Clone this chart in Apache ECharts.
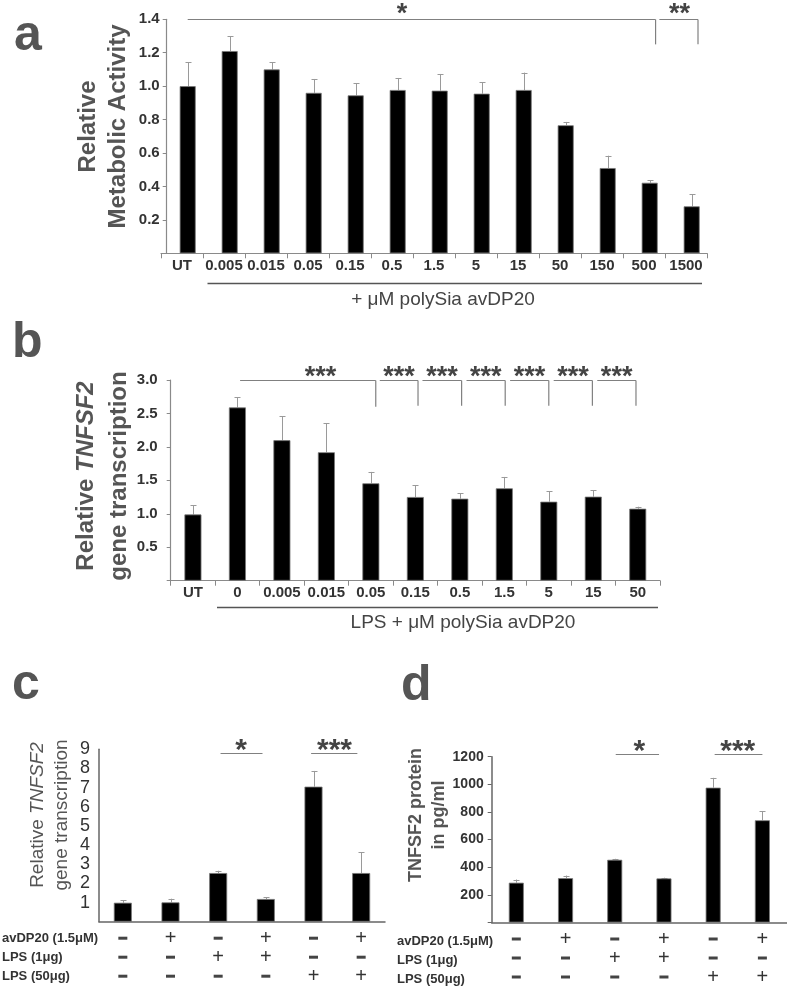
<!DOCTYPE html>
<html><head><meta charset="utf-8">
<script src="https://cdn.jsdelivr.net/npm/echarts@6/dist/echarts.min.js"></script>
<style>html,body{margin:0;padding:0;background:#fff}#c{width:787px;height:987px}</style>
</head><body><div id="c"></div>
<script>
// ---------- DATA ----------
const catA = ['UT','0.005','0.015','0.05','0.15','0.5','1.5','5','15','50','150','500','1500'];
const meanA = [1.00,1.21,1.10,0.96,0.945,0.977,0.973,0.955,0.977,0.766,0.51,0.422,0.281];
const sdA   = [0.143,0.09,0.043,0.083,0.072,0.072,0.10,0.068,0.104,0.02,0.074,0.015,0.072];
const ticksA = [0,0.2,0.4,0.6,0.8,1.0,1.2,1.4];

const catB = ['UT','0','0.005','0.015','0.05','0.15','0.5','1.5','5','15','50'];
const meanB = [0.99,2.59,2.10,1.92,1.456,1.251,1.226,1.381,1.181,1.256,1.076];
const sdB   = [0.14,0.15,0.36,0.43,0.17,0.175,0.08,0.17,0.155,0.095,0.03];

const catC = ['g1','g2','g3','g4','g5','g6'];
const meanC = [0.99,1.01,2.54,1.185,7.05,2.54];
const sdC   = [0.13,0.19,0.12,0.085,0.82,1.08];

const meanD = [288,321,454,319,976,740];
const sdD   = [23,19,7,5,71,67];

const rowAvdp  = ['-','+','-','+','-','+'];
const rowLps1  = ['-','-','+','+','-','-'];
const rowLps50 = ['-','-','-','-','+','+'];
const rowNames = ['avDP20 (1.5μM)','LPS (1μg)','LPS (50μg)'];

// significance brackets: [fromIdx, toIdx, lineValue, dropValue(-1 none), labelIdx]
const sigA = [[0,11.14,1.4,1.25,5.1],[11.23,12.15,1.4,1.25,11.71]];
const sigALabels = ['*','**'];
const sigB = [[1.06,4.11,3.0,2.60,2.87],[4.20,5.06,3.0,2.615,4.63],[5.16,6.04,3.0,2.615,5.60],[6.15,7.02,3.0,2.615,6.585],[7.13,8.0,3.0,2.615,7.565],[8.11,8.98,3.0,2.615,8.545],[9.09,9.96,3.0,2.615,9.525]];
const sigBLabels = ['***','***','***','***','***','***','***'];
const sigC = [[2.05,2.93,8.82,-1,2.48],[3.95,4.92,8.82,-1,4.44]];
const sigD = [[2.02,2.9,1221,-1,2.5],[4.03,5.0,1221,-1,4.5]];
const sigCDLabels = ['*','***'];

// ---------- RENDER ----------
const FF = "'Liberation Sans', Arial, Helvetica, sans-serif";
const chart = echarts.init(document.getElementById('c'), null, {renderer:'canvas', width:787, height:987});

function errRender(params, api){
  const x = api.value(0), m = api.value(1), s = api.value(2);
  const p0 = api.coord([x, m]), p1 = api.coord([x, m + s]);
  const cx = Math.round(p0[0]) + 0.5;
  return {type:'group', children:[
    {type:'line', shape:{x1:cx,y1:p0[1],x2:cx,y2:p1[1]}, style:{stroke:'#9a9a9a', lineWidth:1}},
    {type:'line', shape:{x1:cx-3,y1:Math.round(p1[1])+0.5,x2:cx+3,y2:Math.round(p1[1])+0.5}, style:{stroke:'#9a9a9a', lineWidth:1}}
  ]};
}
function makeSig(labels, fontSize, gap){
  return function(params, api){
    const x1 = api.value(0), x2 = api.value(1), yv = api.value(2), yd = api.value(3), lx = api.value(4);
    const bw = api.size([1,0])[0];
    const px = v => { const b = Math.max(0, Math.floor(v)); return api.coord([b, yv])[0] + (v - b) * bw; };
    const y = Math.round(api.coord([0, yv])[1]) + 0.5;
    const ch = [{type:'line', shape:{x1:px(x1),y1:y,x2:px(x2),y2:y}, style:{stroke:'#808080', lineWidth:1.2}}];
    if (yd >= 0) {
      const yD = api.coord([0, yd])[1];
      ch.push({type:'line', shape:{x1:px(x2),y1:y,x2:px(x2),y2:yD}, style:{stroke:'#808080', lineWidth:1.2}});
    }
    ch.push({type:'text', style:{text:labels[params.dataIndex], x:px(lx), y:y - gap, font:`bold ${fontSize}px ${FF}`, fill:'#444', align:'center', verticalAlign:'middle', textAlign:'center', textVerticalAlign:'middle'}});
    return {type:'group', children:ch};
  };
}

const axisGray = {lineStyle:{color:'#8a8a8a', width:1.2}};
const tickLbl = {color:'#333', fontSize:15, fontWeight:'bold', fontFamily:FF};
const sym = s => s === '+' ? '{p|+}' : '{m| }';
const tableLabel = {interval:0, margin:7, fontFamily:FF,
  formatter:(v,i)=>sym(rowAvdp[i])+'\n'+sym(rowLps1[i])+'\n'+sym(rowLps50[i]),
  rich:{p:{fontSize:20, color:'#333', fontFamily:FF, lineHeight:19, height:19, verticalAlign:'middle'},
        m:{fontSize:4, width:9, height:3, backgroundColor:'#444', lineHeight:19, verticalAlign:'middle'}}};

const option = {
  animation:false,
  backgroundColor:'#fff',
  grid:[
    {left:161, top:19.3, width:546, height:234},     // 0: a axis grid
    {left:166.7, top:19.3, width:546, height:234},   // 1: a bar grid
    {left:170.7, top:380, width:489.3, height:200.7},// 2: b
    {left:99, top:749.3, width:286, height:172.4},   // 3: c
    {left:491.7, top:756.7, width:303.6, height:167.6} // 4: d
  ],
  xAxis:[
    {gridIndex:0, type:'category', data:catA, axisLine:axisGray, axisTick:{show:true, length:5, interval:0, lineStyle:{color:'#8a8a8a'}}, axisLabel:Object.assign({interval:0, margin:5}, tickLbl)},
    {gridIndex:1, type:'category', data:catA, show:false},
    {gridIndex:2, type:'category', data:catB, axisLine:axisGray, axisTick:{show:true, length:5, interval:0, lineStyle:{color:'#8a8a8a'}}, axisLabel:Object.assign({interval:0, margin:5}, tickLbl)},
    {gridIndex:3, type:'category', data:catC, axisLine:{lineStyle:{color:'#666', width:1.5}}, axisTick:{show:false}, axisLabel:tableLabel},
    {gridIndex:4, type:'category', data:catC, axisLine:{lineStyle:{color:'#666', width:1.5}}, axisTick:{show:false}, axisLabel:tableLabel}
  ],
  yAxis:[
    {gridIndex:0, type:'value', min:0, max:1.4, show:false},
    {gridIndex:1, type:'value', min:ticksA[0], max:ticksA[ticksA.length-1], interval:0.2, splitLine:{show:false},
      axisLine:Object.assign({show:true}, axisGray), axisTick:{show:true, length:4, lineStyle:{color:'#8a8a8a'}},
      axisLabel:Object.assign({margin:7, formatter:v=>v===0?'':v.toFixed(1)}, tickLbl)},
    {gridIndex:2, type:'value', min:0, max:3, interval:0.5, splitLine:{show:false},
      axisLine:Object.assign({show:true}, axisGray), axisTick:{show:true, length:4, lineStyle:{color:'#8a8a8a'}},
      axisLabel:Object.assign({margin:13, formatter:v=>v===0?'':v.toFixed(1)}, tickLbl)},
    {gridIndex:3, type:'value', min:0, max:9, interval:1, splitLine:{show:false},
      axisLine:{show:true, lineStyle:{color:'#666', width:1.5}}, axisTick:{show:false},
      axisLabel:{margin:9, color:'#333', fontSize:18, fontFamily:"'Liberation Sans Narrow','Arial Narrow',"+FF, formatter:v=>v===0?'':String(v)}},
    {gridIndex:4, type:'value', min:0, max:1200, interval:200, splitLine:{show:false},
      axisLine:{show:true, lineStyle:{color:'#666', width:1.5}}, axisTick:{show:true, length:4, lineStyle:{color:'#666'}},
      axisLabel:{margin:8, color:'#333', fontSize:14, fontWeight:'bold', fontFamily:FF, formatter:v=>v===0?'':String(v)}}
  ],
  series:[
    {type:'bar', xAxisIndex:1, yAxisIndex:1, data:meanA, barWidth:16, itemStyle:{color:'#000', borderColor:'#777', borderWidth:0.8}},
    {type:'custom', xAxisIndex:1, yAxisIndex:1, renderItem:errRender, data:catA.map((c,i)=>[i,meanA[i],sdA[i]]), encode:{x:0,y:1}, z:1},
    {type:'custom', xAxisIndex:1, yAxisIndex:1, renderItem:makeSig(sigALabels,27,5), data:sigA, encode:{x:0,y:2}, clip:false},

    {type:'bar', xAxisIndex:2, yAxisIndex:2, data:meanB, barWidth:17, itemStyle:{color:'#000', borderColor:'#777', borderWidth:0.8}},
    {type:'custom', xAxisIndex:2, yAxisIndex:2, renderItem:errRender, data:catB.map((c,i)=>[i,meanB[i],sdB[i]]), encode:{x:0,y:1}, z:1},
    {type:'custom', xAxisIndex:2, yAxisIndex:2, renderItem:makeSig(sigBLabels,27,3), data:sigB, encode:{x:0,y:2}, clip:false},

    {type:'bar', xAxisIndex:3, yAxisIndex:3, data:meanC, barWidth:18, itemStyle:{color:'#000', borderColor:'#777', borderWidth:0.8}},
    {type:'custom', xAxisIndex:3, yAxisIndex:3, renderItem:errRender, data:catC.map((c,i)=>[i,meanC[i],sdC[i]]), encode:{x:0,y:1}, z:1},
    {type:'custom', xAxisIndex:3, yAxisIndex:3, renderItem:makeSig(sigCDLabels,30,3), data:sigC, encode:{x:0,y:2}, clip:false},

    {type:'bar', xAxisIndex:4, yAxisIndex:4, data:meanD, barWidth:15, itemStyle:{color:'#000', borderColor:'#777', borderWidth:0.8}},
    {type:'custom', xAxisIndex:4, yAxisIndex:4, renderItem:errRender, data:catC.map((c,i)=>[i,meanD[i],sdD[i]]), encode:{x:0,y:1}, z:1},
    {type:'custom', xAxisIndex:4, yAxisIndex:4, renderItem:makeSig(sigCDLabels,30,3), data:sigD, encode:{x:0,y:2}, clip:false}
  ],
  graphic:[
    // panel letters
    {type:'text', x:14, y:36, style:{text:'a', font:`bold 50px ${FF}`, fill:'#555', align:'left', verticalAlign:'middle', textAlign:'left', textVerticalAlign:'middle'}},
    {type:'text', x:12, y:343, style:{text:'b', font:`bold 50px ${FF}`, fill:'#555', align:'left', verticalAlign:'middle', textAlign:'left', textVerticalAlign:'middle'}},
    {type:'text', x:12, y:685, style:{text:'c', font:`bold 50px ${FF}`, fill:'#555', align:'left', verticalAlign:'middle', textAlign:'left', textVerticalAlign:'middle'}},
    {type:'text', x:401, y:686, style:{text:'d', font:`bold 50px ${FF}`, fill:'#555', align:'left', verticalAlign:'middle', textAlign:'left', textVerticalAlign:'middle'}},
    // axis titles
    {type:'text', x:103, y:126.5, rotation:Math.PI/2, style:{text:'Relative\nMetabolic Activity', font:`bold 24px ${FF}`, lineHeight:30, fill:'#555', align:'center', verticalAlign:'middle', textAlign:'center', textVerticalAlign:'middle'}},
    {type:'text', x:103, y:476, rotation:Math.PI/2, style:{text:'{n|Relative }{i|TNFSF2}\n{n|gene transcription}', align:'center', verticalAlign:'middle', textAlign:'center', textVerticalAlign:'middle',
      rich:{n:{fontFamily:FF, fontWeight:'bold', fontSize:24, fill:'#555', color:'#555', lineHeight:33}, i:{fontFamily:FF, fontWeight:'bold', fontStyle:'italic', fontSize:24, fill:'#555', color:'#555', lineHeight:33}}}},
    {type:'text', x:50, y:815, rotation:Math.PI/2, style:{text:'{n|Relative }{i|TNFSF2}\n{n|gene transcription}', align:'center', verticalAlign:'middle', textAlign:'center', textVerticalAlign:'middle',
      rich:{n:{fontFamily:FF, fontSize:19, fill:'#555', color:'#555', lineHeight:24}, i:{fontFamily:FF, fontStyle:'italic', fontSize:19, fill:'#555', color:'#555', lineHeight:24}}}},
    {type:'text', x:428, y:815, rotation:Math.PI/2, style:{text:'TNFSF2 protein\nin pg/ml', font:`bold 18px ${FF}`, lineHeight:23, fill:'#555', align:'center', verticalAlign:'middle', textAlign:'center', textVerticalAlign:'middle'}},
    // group lines & captions
    {type:'line', shape:{x1:207.5, y1:283.5, x2:702, y2:283.5}, style:{stroke:'#555', lineWidth:1.5}},
    {type:'text', x:443, y:300, style:{text:'+ μM polySia avDP20', font:`19px ${FF}`, fill:'#444', align:'center', verticalAlign:'middle', textAlign:'center', textVerticalAlign:'middle'}},
    {type:'line', shape:{x1:217, y1:607.5, x2:658, y2:607.5}, style:{stroke:'#555', lineWidth:1.5}},
    {type:'text', x:463, y:623, style:{text:'LPS + μM polySia avDP20', font:`19px ${FF}`, fill:'#444', align:'center', verticalAlign:'middle', textAlign:'center', textVerticalAlign:'middle'}}
  ].concat(
    rowNames.map((t,k)=>({type:'text', x:2, y:938.5+k*19, style:{text:t, font:`bold 13px ${FF}`, fill:'#333', align:'left', verticalAlign:'middle', textAlign:'left', textVerticalAlign:'middle'}})),
    rowNames.map((t,k)=>({type:'text', x:397, y:941+k*19, style:{text:t, font:`bold 13px ${FF}`, fill:'#333', align:'left', verticalAlign:'middle', textAlign:'left', textVerticalAlign:'middle'}}))
  )
};
chart.setOption(option);
</script></body></html>
